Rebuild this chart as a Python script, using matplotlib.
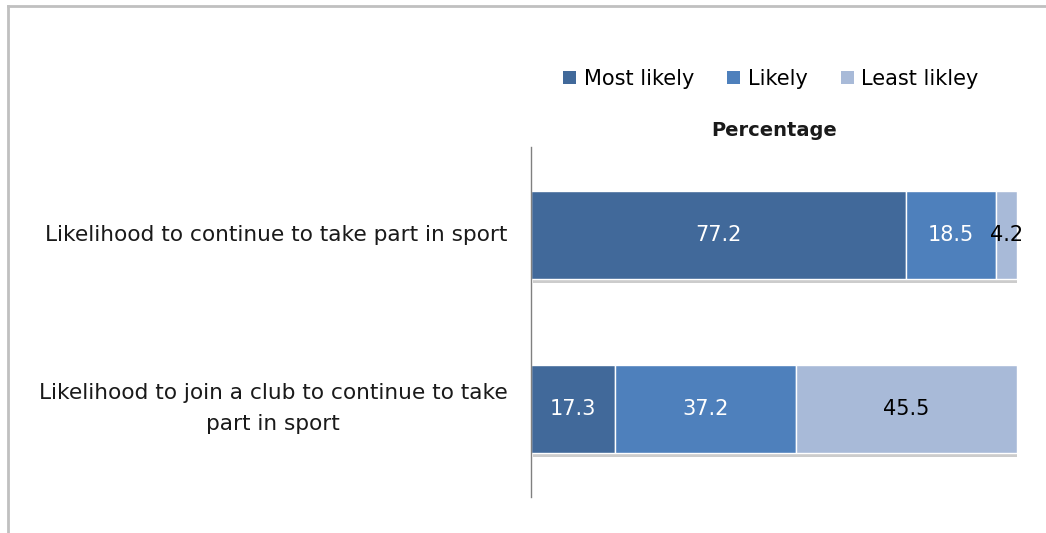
import matplotlib
matplotlib.use("Agg")
import matplotlib.pyplot as plt
import matplotlib.patheffects as pe
from matplotlib.lines import Line2D
from matplotlib.patches import Patch

categories = ["Likelihood to continue to take part in sport",
              "Likelihood to join a club to continue to take\npart in sport"]
series_names = ["Most likely", "Likely", "Least likley"]
most_likely = [77.2, 17.3]
likely = [18.5, 37.2]
least_likely = [4.2, 45.5]
colors = ["#41699A", "#4E80BC", "#A8BAD8"]
label_colors = ["white", "white", "black"]

W, H = 1046, 533
fig = plt.figure(figsize=(W / 100, H / 100), dpi=100)
ax = fig.add_axes([531 / W, 1 - 497 / H, 486 / W, 350 / H])

font = "DejaVu Sans"
fs = 15

values = [most_likely, likely, least_likely]
ypos = list(range(len(categories)))
left = [0.0] * len(categories)
shadow = [pe.SimplePatchShadow(offset=(1.5, -3), shadow_rgbFace="#808080", alpha=0.4), pe.Normal()]
for vals, name, col, lc in zip(values, series_names, colors, label_colors):
    bars = ax.barh(ypos, vals, left=left, height=0.507, color=col, edgecolor="white",
                   linewidth=1.0, label=name, zorder=2)
    for b in bars:
        b.set_path_effects(shadow)
    for y, v, l in zip(ypos, vals, left):
        ax.text(l + v / 2, y, f"{v:.1f}", ha="center", va="center", color=lc,
                fontsize=fs, family=font, zorder=3)
    left = [a + b for a, b in zip(left, vals)]

ax.set_xlim(0, 100)
ax.set_ylim(1.51, -0.51)
ax.set_xticks([])
ax.set_yticks(ypos)
ax.set_yticklabels(categories, fontsize=15.6, family=font, color="#1a1a1a", linespacing=1.7)
for t in ax.get_yticklabels():
    t.set_multialignment("center")
    t.set_verticalalignment("center")
ax.tick_params(axis="y", length=0, pad=17)
for s in ["top", "right", "bottom"]:
    ax.spines[s].set_visible(False)
ax.spines["left"].set_color("#808080")
ax.spines["left"].set_linewidth(1.0)

ax.set_title("Percentage", fontsize=14, fontweight="bold", family=font, pad=8, color="#1a1a1a")

handles = [Patch(facecolor=c, edgecolor="none") for c in colors]
fig.legend(handles, series_names, loc="center", bbox_to_anchor=(771 / W, 1 - 79 / H),
           ncol=3, frameon=False, prop={"family": font, "size": fs},
           handlelength=0.63, handleheight=0.63, handletextpad=0.35, columnspacing=1.6)

# outer chart frame
fig.add_artist(Line2D([8 / W, 1], [1 - 6 / H, 1 - 6 / H], color="#C0C0C0", lw=2, transform=fig.transFigure))
fig.add_artist(Line2D([8 / W, 8 / W], [0, 1 - 6 / H], color="#C0C0C0", lw=2, transform=fig.transFigure))

fig.savefig("out.png", dpi=100)
